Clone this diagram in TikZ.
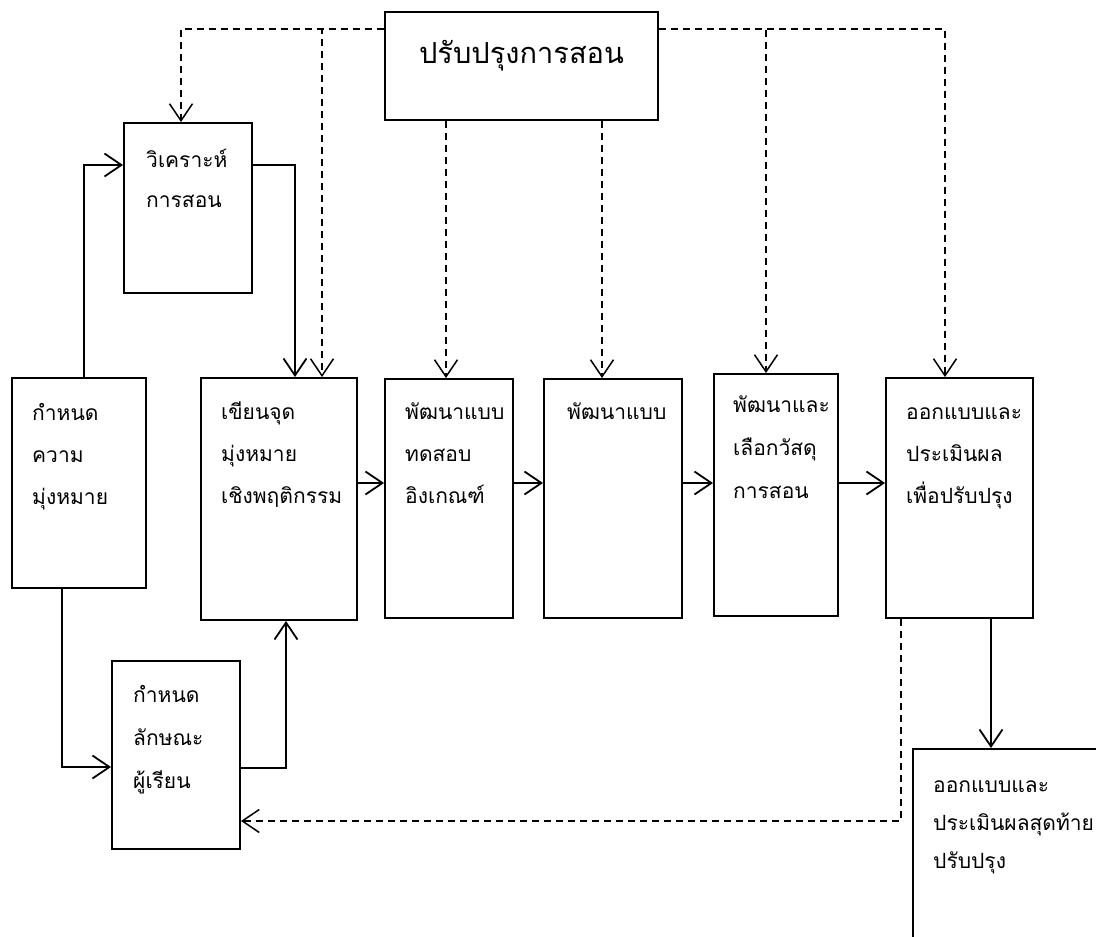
\documentclass[tikz,border=0pt]{standalone}
\usepackage{fontspec}
\newfontfamily\thai[Script=Thai]{Loma}
\usetikzlibrary{arrows.meta}

\tikzset{
  box/.style={draw, line width=1.9pt, rectangle, inner sep=0pt},
  txt/.style={anchor=north west, inner sep=0pt, align=left,
              font=\thai\fontsize{21}{42}\selectfont},
  arr/.style={line width=1.8pt, -{Straight Barb[length=17pt,width=23pt,line width=1.8pt]}},
  darr/.style={line width=1.5pt, dash pattern=on 7pt off 5pt,
               -{Straight Barb[length=17pt,width=23pt,line width=1.5pt]}},
}
\newcommand{\firstline}{\rule{0pt}{26pt}}

\begin{document}
\begin{tikzpicture}[x=1pt, y=-1pt]
  \useasboundingbox (0,0) rectangle (1096,937);
  \clip (0,0) rectangle (1096,937);

  % boxes
  \node[box, minimum width=273pt, minimum height=108pt] (top)     at (521.5,66) {};
  \node[box, minimum width=128pt, minimum height=170pt] (anal)    at (188,208) {};
  \node[box, minimum width=134pt, minimum height=210pt] (goal)    at (79,483) {};
  \node[box, minimum width=156pt, minimum height=242pt] (obj)     at (279,499) {};
  \node[box, minimum width=128pt, minimum height=239pt] (test)    at (449,498.5) {};
  \node[box, minimum width=138pt, minimum height=239pt] (dev)     at (613,498.5) {};
  \node[box, minimum width=124pt, minimum height=242pt] (mat)     at (776,495) {};
  \node[box, minimum width=147pt, minimum height=240pt] (form)    at (959.5,498) {};
  \node[box, minimum width=128pt, minimum height=188pt] (learner) at (176,755) {};
  \node[box, minimum width=217pt, minimum height=231pt] (final)   at (1021.5,864.5) {};

  % labels
  \node[anchor=base, inner sep=0pt, font=\thai\fontsize{29}{34}\selectfont] (ttop) at (521.5,63) {ปรับปรุงการสอน};
  \node[txt, font=\thai\fontsize{21}{40}\selectfont] (tanal) at (146,141) {\firstline วิเคราะห์\\การสอน};
  \node[txt] (tgoal) at (32,394) {\firstline กำหนด\\ความ\\มุ่งหมาย};
  \node[txt] (tobj) at (221,393) {\firstline เขียนจุด\\มุ่งหมาย\\เชิงพฤติกรรม};
  \node[txt] (ttest) at (405,393) {\firstline พัฒนาแบบ\\ทดสอบ\\อิงเกณฑ์};
  \node[txt] (tdev) at (567,393) {\firstline พัฒนาแบบ};
  \node[txt, font=\thai\fontsize{21}{43}\selectfont] (tmat) at (733,386) {\firstline พัฒนาและ\\เลือกวัสดุ\\การสอน};
  \node[txt] (tform) at (906,393) {\firstline ออกแบบและ\\ประเมินผล\\เพื่อปรับปรุง};
  \node[txt, font=\thai\fontsize{21}{43}\selectfont] (tlearner) at (133,676) {\firstline กำหนด\\ลักษณะ\\ผู้เรียน};
  \node[txt, font=\thai\fontsize{21}{38}\selectfont] (tfinal) at (933,766) {\firstline ออกแบบและ\\ประเมินผลสุดท้าย\\ปรับปรุง};

  % main flow
  \coordinate (rowy) at (0,483);
  \draw[arr] ([xshift=5pt]goal.north) |- ([yshift=43pt]anal.west);
  \draw[arr] ([yshift=43pt]anal.east) -| ([xshift=16pt]obj.north);
  \draw[arr] ([xshift=-17pt]goal.south) |- ([yshift=-12pt]learner.west);
  \draw[arr] ([yshift=-13pt]learner.east) -| ([xshift=7pt]obj.south);
  \draw[arr] (obj.east |- rowy) -- (test.west |- rowy);
  \draw[arr] (test.east |- rowy) -- (dev.west |- rowy);
  \draw[arr] (dev.east |- rowy) -- (mat.west |- rowy);
  \draw[arr] (mat.east |- rowy) -- (form.west |- rowy);
  \draw[arr] ([xshift=31.5pt]form.south) -- ([xshift=31.5pt]form.south |- final.north);

  % improvement feedback
  \draw[darr] ([yshift=37pt]top.west) -| ([xshift=-7pt]anal.north);
  \draw[darr] ([yshift=37pt]top.west) -| ([xshift=43pt]obj.north);
  \draw[darr] ([yshift=37pt]top.east) -| ([xshift=-10pt]mat.north);
  \draw[darr] ([yshift=37pt]top.east) -| ([xshift=-14.5pt]form.north);
  \draw[darr] ([xshift=-3pt]test.north |- top.south) -- ([xshift=-3pt]test.north);
  \draw[darr] ([xshift=-11pt]dev.north |- top.south) -- ([xshift=-11pt]dev.north);
  \draw[darr] ([xshift=-58.5pt]form.south) |- ([yshift=-66pt]learner.east);
\end{tikzpicture}
\end{document}
